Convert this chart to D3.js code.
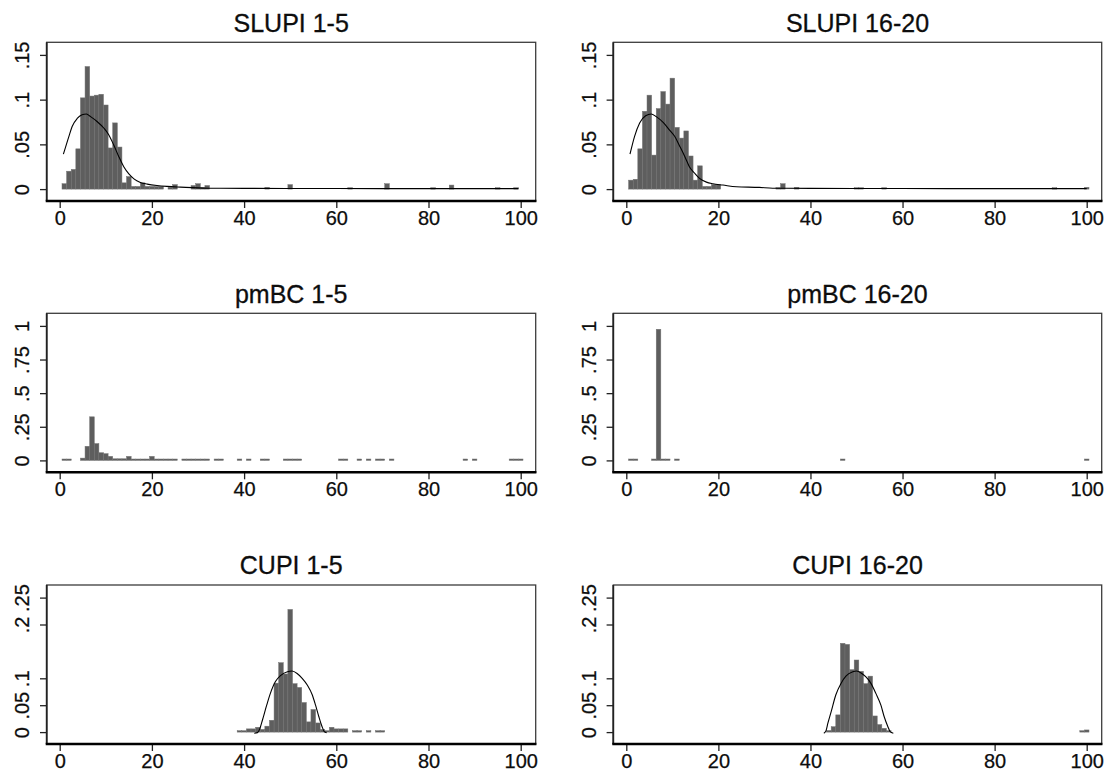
<!DOCTYPE html>
<html>
<head>
<meta charset="utf-8">
<script src="https://cdn.jsdelivr.net/npm/d3@7"></script>
<style>
  html, body { margin: 0; padding: 0; background: #fff; }
  svg { display: block; font-family: "Liberation Sans", Arial, Helvetica, sans-serif; }
  text { paint-order: stroke; }
</style>
</head>
<body>
<svg id="chart" width="1111" height="781"></svg>
<script>
// ---------- histogram data: guessed number -> share of guesses ----------
const slupi15Guess = [1,2,3,4,5,6,7,8,9,10,11,12,13,14,15,16,17,18,19,20,21,22,24,25,29,30,31,32,45,50,63,71,81,85,95,99];
const slupi15Share = [0.006,0.020,0.022,0.045,0.102,0.137,0.104,0.105,0.106,0.094,0.046,0.074,0.047,0.007,0.014,0.003,0.003,0.007,0.003,0.003,0.003,0.003,0.002,0.005,0.004,0.006,0.002,0.004,0.002,0.005,0.001,0.006,0.001,0.0045,0.001,0.001];

const slupi1620Guess = [1,2,3,4,5,6,7,8,9,10,11,12,13,14,15,16,17,18,19,20,33,34,37,50,51,56,93,100];
const slupi1620Share = [0.010,0.011,0.045,0.087,0.105,0.038,0.090,0.109,0.095,0.124,0.069,0.057,0.065,0.037,0.010,0.026,0.003,0.003,0.005,0.005,0.001,0.006,0.002,0.001,0.001,0.001,0.001,0.002];

const pmbc15Guess = [1,2,5,6,7,8,9,10,11,12,13,14,15,16,17,18,19,20,21,22,23,24,25,27,28,29,30,31,32,34,35,39,41,44,45,49,50,51,52,61,62,65,67,69,70,72,88,90,98,99,100];
const pmbc15Share = [0.002,0.002,0.017,0.105,0.324,0.125,0.057,0.050,0.030,0.012,0.012,0.012,0.030,0.004,0.004,0.004,0.004,0.030,0.003,0.003,0.003,0.003,0.003,0.003,0.003,0.003,0.003,0.003,0.003,0.002,0.002,0.002,0.001,0.002,0.002,0.002,0.002,0.002,0.002,0.002,0.002,0.001,0.001,0.002,0.002,0.001,0.001,0.001,0.002,0.002,0.002];

const pmbc1620Guess = [1,2,6,7,8,9,11,47,100];
const pmbc1620Share = [0.002,0.002,0.003,0.975,0.003,0.002,0.002,0.002,0.002];

const cupi15Guess = [39,40,41,42,43,44,45,46,47,48,49,50,51,52,53,54,55,56,57,58,59,60,61,62,64,65,67,69,70];
const cupi15Share = [0.001,0.001,0.006,0.006,0.009,0.005,0.011,0.022,0.091,0.129,0.108,0.228,0.090,0.083,0.055,0.019,0.042,0.017,0.005,0.002,0.009,0.006,0.006,0.006,0.001,0.001,0.001,0.001,0.001];

const cupi1620Guess = [44,45,46,47,48,49,50,51,52,53,54,55,56,57,99,100];
const cupi1620Share = [0.003,0.010,0.032,0.165,0.163,0.116,0.134,0.113,0.090,0.104,0.030,0.014,0.007,0.002,0.001,0.004];

// ---------- density curves ----------
const slupi15DensX = [0.8,2.0,2.7,3.8,4.85,5.8,6.7,8.1,9.6,10.6,11.7,12.8,13.9,15.0,16.1,17.5,19.0,21.1,23.3,26.2,32,40,60,80,99.5];
const slupi15DensY = [0.039,0.059,0.070,0.079,0.083,0.084,0.081,0.0756,0.068,0.061,0.0495,0.0365,0.025,0.017,0.0115,0.0075,0.0056,0.004,0.003,0.0022,0.001,0.0008,0.0006,0.0005,0.0005];

const slupi1620DensX = [0.8,1.8,2.9,4.2,5.4,6.5,8.0,9.4,10.5,11.6,12.7,13.7,14.8,15.9,17.4,18.8,21,23.9,28.9,31.8,40,60,80,100];
const slupi1620DensY = [0.039,0.059,0.074,0.082,0.084,0.081,0.0745,0.066,0.059,0.048,0.0365,0.025,0.018,0.012,0.0078,0.006,0.0045,0.0026,0.0019,0.001,0.0008,0.0006,0.0005,0.0005];

const cupi15DensX = [42.2,42.9,43.4,44.0,44.9,45.7,46.8,47.9,49.4,50.4,51.5,52.6,53.7,54.8,55.5,56.2,56.9,57.4,57.9];
const cupi15DensY = [-0.002,-0.001,0.006,0.023,0.050,0.072,0.094,0.105,0.112,0.1135,0.109,0.100,0.0876,0.069,0.050,0.029,0.0104,0.001,-0.001];

const cupi1620DensX = [42.9,43.3,43.8,44.5,45.5,46.6,47.7,49.2,50.0,51.0,52.0,53.1,54.2,55.3,56.0,56.8,57.3,58.0];
const cupi1620DensY = [-0.002,0.001,0.017,0.038,0.069,0.090,0.104,0.112,0.1135,0.110,0.103,0.091,0.072,0.050,0.029,0.0105,0.001,-0.002];

// ---------- axis ticks ----------
const xTicks = [0, 20, 40, 60, 80, 100];
const slupiYTicks = [0, 0.05, 0.1, 0.15];
const slupiYLabels = ["0", ".05", ".1", ".15"];
const pmbcYTicks = [0, 0.25, 0.5, 0.75, 1];
const pmbcYLabels = ["0", ".25", ".5", ".75", "1"];
const cupiYTicks = [0, 0.05, 0.1, 0.2, 0.25];
const cupiYLabels = ["0", ".05", ".1", ".2", ".25"];

const panelTitles = ["SLUPI 1-5", "SLUPI 16-20", "pmBC 1-5", "pmBC 16-20", "CUPI 1-5", "CUPI 16-20"];

// ---------- panel layout ----------
const colLeft = [46.7, 613.3], colRight = [535.7, 1101.7];
const rowTop = [42.3, 313.3, 585], rowBottom = [201, 472.3, 744];

const zip = (a, b) => a.map((d, i) => [d, b[i]]);

const panels = [
  { title: panelTitles[0], row: 0, col: 0, bars: zip(slupi15Guess, slupi15Share),   dens: zip(slupi15DensX, slupi15DensY),   yTicks: slupiYTicks, yLabels: slupiYLabels },
  { title: panelTitles[1], row: 0, col: 1, bars: zip(slupi1620Guess, slupi1620Share), dens: zip(slupi1620DensX, slupi1620DensY), yTicks: slupiYTicks, yLabels: slupiYLabels },
  { title: panelTitles[2], row: 1, col: 0, bars: zip(pmbc15Guess, pmbc15Share),     dens: null,                              yTicks: pmbcYTicks,  yLabels: pmbcYLabels },
  { title: panelTitles[3], row: 1, col: 1, bars: zip(pmbc1620Guess, pmbc1620Share), dens: null,                              yTicks: pmbcYTicks,  yLabels: pmbcYLabels },
  { title: panelTitles[4], row: 2, col: 0, bars: zip(cupi15Guess, cupi15Share),     dens: zip(cupi15DensX, cupi15DensY),     yTicks: cupiYTicks,  yLabels: cupiYLabels },
  { title: panelTitles[5], row: 2, col: 1, bars: zip(cupi1620Guess, cupi1620Share), dens: zip(cupi1620DensX, cupi1620DensY), yTicks: cupiYTicks,  yLabels: cupiYLabels }
];

const svg = d3.select("#chart");
const textColor = "#0d0d0d";

panels.forEach(p => {
  const L = colLeft[p.col], R = colRight[p.col];
  const T = rowTop[p.row], B = rowBottom[p.row];
  const g = svg.append("g");

  const x = d3.scaleLinear().domain([0, 100]).range([L + 13, R - 15]);
  const y = d3.scaleLinear().domain([0, d3.max(p.yTicks)]).range([B - 11.9, T + 12.6]);

  // plot region outline
  g.append("rect")
    .attr("x", L).attr("y", T).attr("width", R - L).attr("height", B - T)
    .attr("fill", "none").attr("stroke", "#3c3c3c").attr("stroke-width", 1.3);

  // histogram bars, one bin per integer guess
  g.append("g").selectAll("rect").data(p.bars).join("rect")
    .attr("x", d => x(d[0] - 0.5))
    .attr("width", d => x(d[0] + 0.5) - x(d[0] - 0.5))
    .attr("y", d => Math.min(y(d[1]), y(0) - 1.4))
    .attr("height", d => Math.max(y(0) - y(d[1]), 1.4))
    .attr("fill", "#5e5e5e")
    .attr("stroke", "#737373")
    .attr("stroke-width", 0.5);

  // density curve
  if (p.dens) {
    const line = d3.line().x(d => x(d[0])).y(d => y(d[1])).curve(d3.curveMonotoneX);
    g.append("path").attr("d", line(p.dens))
      .attr("fill", "none").attr("stroke", "#000").attr("stroke-width", 1.1);
  }

  // y axis
  const ya = g.append("g").attr("transform", `translate(${L},0)`)
    .call(d3.axisLeft(y).tickValues(p.yTicks).tickFormat((d, i) => p.yLabels[i]).tickSize(6.7));
  ya.select(".domain").remove();
  ya.selectAll(".tick line").attr("stroke", "#222").attr("stroke-width", 1.3);
  ya.selectAll(".tick text")
    .attr("x", null).attr("dy", null)
    .attr("text-anchor", "middle")
    .attr("transform", "translate(-17.5,0) rotate(-90)")
    .attr("fill", textColor).attr("stroke", textColor).attr("stroke-width", 0.25)
    .style("font-size", "20px");

  // x axis
  const xa = g.append("g").attr("transform", `translate(0,${B})`)
    .call(d3.axisBottom(x).tickValues(xTicks).tickSize(7).tickPadding(3));
  xa.select(".domain").remove();
  xa.selectAll(".tick line").attr("stroke", "#222").attr("stroke-width", 1.3);
  xa.selectAll(".tick text")
    .attr("fill", textColor).attr("stroke", textColor).attr("stroke-width", 0.25)
    .style("font-size", "20px");

  // axis lines
  g.append("line").attr("x1", L).attr("x2", L).attr("y1", T).attr("y2", B)
    .attr("stroke", "#222").attr("stroke-width", 1.8);
  g.append("line").attr("x1", L - 1).attr("x2", R + 0.7).attr("y1", B).attr("y2", B)
    .attr("stroke", "#000").attr("stroke-width", 2.5);

  // panel title
  g.append("text")
    .attr("x", (L + R) / 2).attr("y", T - 10.6)
    .attr("text-anchor", "middle")
    .attr("fill", textColor).attr("stroke", textColor).attr("stroke-width", 0.3)
    .style("font-size", "25px")
    .text(p.title);
});
</script>
</body>
</html>
